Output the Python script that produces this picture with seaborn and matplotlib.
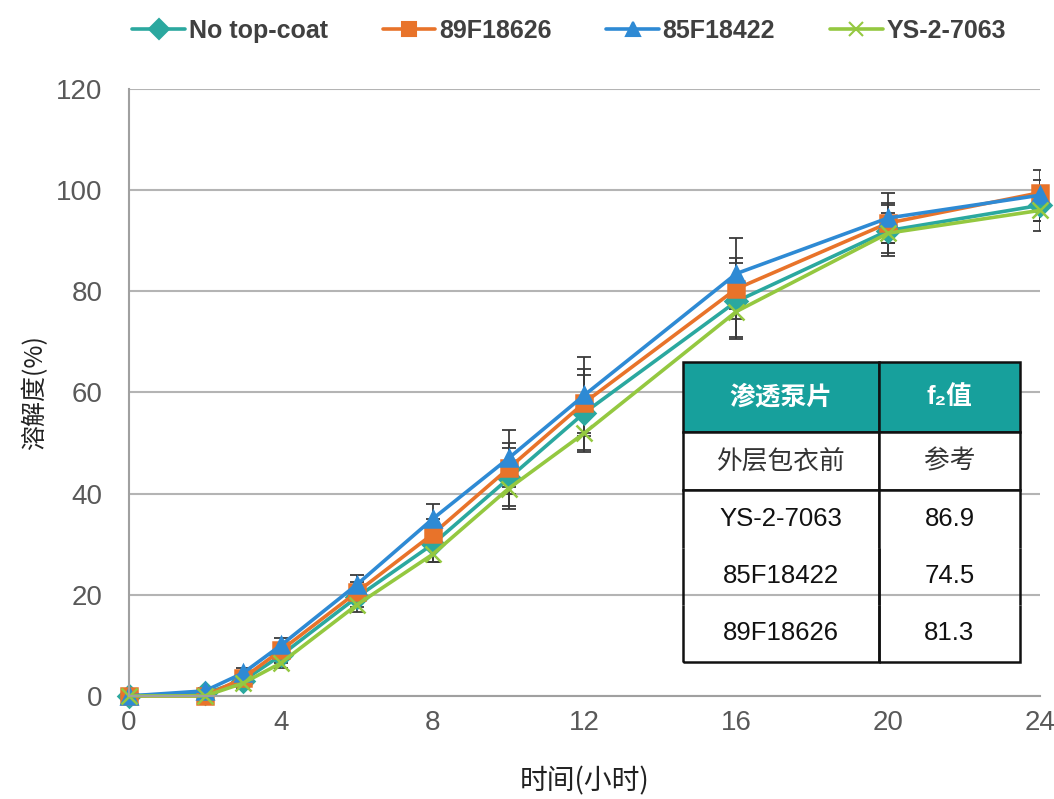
import numpy as np
import pandas as pd
import seaborn as sns
import matplotlib.pyplot as plt

# time points (hours)
hours = [0, 2, 3, 4, 6, 8, 10, 12, 16, 20, 24]

# dissolution (%)
no_top = [0, 0.5, 3, 8, 19.5, 30, 43, 56, 78, 92, 97]
f89 = [0, 0, 3.5, 9, 20.5, 32, 45, 58, 80.5, 93.5, 99.5]
f85 = [0, 1, 4.5, 10, 22, 35, 47, 59.5, 83.5, 94.5, 99]
ys = [0, 0, 2.5, 6.5, 18, 28, 41, 52, 76, 91.5, 96]

# error bar half-widths
err_no_top = [0.5, 0.5, 1, 1.5, 2, 3.5, 6, 7.4, 7.5, 5, 3]
err_f89 = [0.5, 0.5, 1, 1.5, 2, 3, 5, 6.6, 6, 4, 2.5]
err_f85 = [0.5, 0.5, 1, 1.5, 2, 3, 5.6, 7.5, 7, 5, 5]
err_ys = [0.5, 0.5, 1, 1, 1.5, 1.5, 3.5, 3.8, 5, 4, 4]

series = ["No top-coat", "89F18626", "85F18422", "YS-2-7063"]
colors = ["#2BA89F", "#E8732A", "#2E8AD4", "#94C840"]
markers = ["D", "s", "^", "x"]

# inset table
tbl_header = ["渗透泵片", "f₂值"]
tbl_rows = [["外层包衣前", "参考"],
            ["YS-2-7063", "86.9"],
            ["85F18422", "74.5"],
            ["89F18626", "81.3"]]

df = pd.DataFrame({
    "hour": hours * 4,
    "val": no_top + f89 + f85 + ys,
    "err": err_no_top + err_f89 + err_f85 + err_ys,
    "series": np.repeat(series, len(hours)),
})

sns.set_style("white")
plt.rcParams["font.family"] = ["Liberation Sans", "Noto Sans CJK SC", "DejaVu Sans"]

fig = plt.figure(figsize=(10.54, 7.99), dpi=100)
ax = fig.add_axes([0.1224, 0.129, 0.8643, 0.7596])

# error bars behind the lines
for s in series:
    d = df[df["series"] == s]
    ax.errorbar(d["hour"], d["val"], yerr=d["err"], fmt="none", ecolor="#3a3a3a",
                elinewidth=1.3, capsize=5, capthick=1.3, zorder=1)

for s, c, m in zip(series, colors, markers):
    d = df[df["series"] == s]
    sns.lineplot(data=d, x="hour", y="val", color=c, marker=m, markersize=11,
                 markeredgecolor=c, markeredgewidth=1.8, linewidth=2.6,
                 ax=ax, zorder=2, clip_on=False)

ax.set_xlim(0, 24)
ax.set_ylim(0, 120)
ax.set_xticks(range(0, 25, 4))
ax.set_yticks(range(0, 121, 20))
ax.yaxis.grid(True, color="#b4b4b4", linewidth=1.5)
ax.set_axisbelow(True)
for sp in ["top", "right"]:
    ax.spines[sp].set_visible(False)
for sp in ["left", "bottom"]:
    ax.spines[sp].set_color("#a0a0a0")
    ax.spines[sp].set_linewidth(1.5)
ax.tick_params(axis="both", direction="out", length=7, width=1.3, color="#a0a0a0",
               labelsize=20, labelcolor="#595959")
ax.tick_params(axis="x", pad=3)
ax.tick_params(axis="y", pad=12)
ax.set_xlabel("时间(小时)", fontsize=20, color="#222222", labelpad=22,
              family=["Noto Sans CJK SC", "DejaVu Sans"])
ax.set_ylabel("溶解度(%)", fontsize=18, color="#222222", labelpad=6,
              family=["Noto Sans CJK SC", "DejaVu Sans"])

# legend on top
handles = [plt.Line2D([], [], color=c, marker=m, markersize=10, linewidth=2.6,
                      markeredgecolor=c, markeredgewidth=1.5)
           for c, m in zip(colors, markers)]
fig.legend(handles, series, loc="upper center", bbox_to_anchor=(0.54, 1.005),
           ncol=4, frameon=False, handlelength=2.1, handletextpad=0.15,
           columnspacing=2.2, prop={"family": ["Liberation Sans Narrow", "Liberation Sans"],
                                    "weight": "bold", "size": 18},
           labelcolor="#404040")

# inset table
tax = fig.add_axes([0.648, 0.1715, 0.3197, 0.3755])
tax.axis("off")
cells = [tbl_header] + tbl_rows
tb = tax.table(cellText=cells, cellLoc="center", bbox=[0, 0, 1, 1])
tb.auto_set_font_size(False)
heights = [70, 58, 58, 57, 57]
widths = [196, 141]
for (r, c), cell in tb.get_celld().items():
    cell.set_height(heights[r])
    cell.set_width(widths[c])
    cell.set_linewidth(1.8)
    cell.set_edgecolor("#111111")
    txt = cell.get_text()
    txt.set_fontsize(18.5)
    txt.set_family(["Liberation Sans", "Noto Sans CJK SC", "DejaVu Sans"])
    if r == 0:
        cell.set_facecolor("#17A09C")
        txt.set_color("white")
        txt.set_fontweight("bold")
        cell.visible_edges = "closed"
    elif r == 1:
        txt.set_color("#333333")
        cell.visible_edges = "closed"
    else:
        txt.set_color("#111111")
        if r == 2:
            cell.visible_edges = "TLR"
        elif r == 4:
            cell.visible_edges = "BLR"
        else:
            cell.visible_edges = "LR"

fig.savefig("out.png", dpi=100)
